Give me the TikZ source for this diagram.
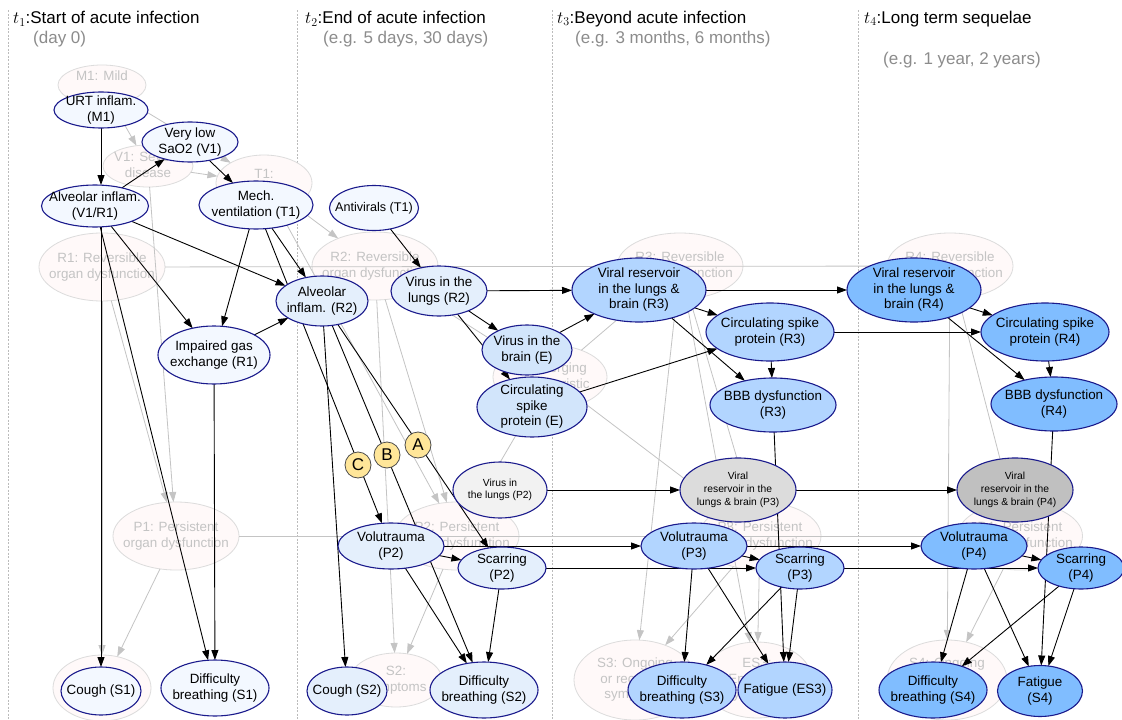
\documentclass[tikz,border=0pt]{standalone}
\usepackage{fontspec}
\setmainfont{Liberation Sans}
\usetikzlibrary{shapes.geometric,arrows.meta}
\newsavebox\ctrbox
\newcommand\ctr[1]{\sbox\ctrbox{\begin{tabular}{@{}c@{}}#1\end{tabular}}\raisebox{\dimexpr(\dp\ctrbox-\ht\ctrbox)/2\relax}[0pt][0pt]{\makebox[0pt]{\usebox\ctrbox}}}
\pgfdeclarelayer{bglayer}\pgfdeclarelayer{gllayer}\pgfdeclarelayer{edlayer}
\pgfsetlayers{bglayer,gllayer,edlayer,main}
\definecolor{navy}{HTML}{1A1A8C}
\definecolor{cA}{HTML}{F3F8FF}
\definecolor{cB}{HTML}{E4EFFC}
\definecolor{cE}{HTML}{D2E5FB}
\definecolor{cC}{HTML}{B2D5FF}
\definecolor{cD}{HTML}{80BDFF}
\definecolor{gA}{HTML}{F2F2F2}
\definecolor{gB}{HTML}{DCDCDC}
\definecolor{gC}{HTML}{C0C0C0}
\definecolor{bgfill}{HTML}{FFF9F9}
\definecolor{bgdraw}{HTML}{DCDCDC}
\definecolor{bgtext}{HTML}{C4C4C4}
\definecolor{glinec}{HTML}{C4C4C4}
\definecolor{subtc}{HTML}{8C8C8C}
\definecolor{divc}{HTML}{BBBBBB}
\definecolor{ylw}{HTML}{FFE699}
\tikzset{
  fgn/.style={ellipse, draw=navy, line width=1.1pt, inner sep=0pt, outer sep=0pt, font=\fontsize{13.4}{15.8}\selectfont},
  smallfg/.style={font=\fontsize{10.3}{12.8}\selectfont},
  sz/.style 2 args={minimum width=#1pt, minimum height=#2pt},
  bgnode/.style={ellipse, draw=bgdraw, fill=bgfill, line width=0.8pt, inner sep=0pt, outer sep=0pt, text=bgtext, font=\fontsize{13.4}{15.8}\selectfont},
  bedge/.style={draw=black, line width=0.9pt, -{Triangle[length=10pt,width=7pt]}},
  gedge/.style={draw=glinec, line width=0.8pt, -{Triangle[length=10pt,width=7pt,fill=glinec]}},
  gplain/.style={draw=glinec, line width=0.8pt},
  circ/.style={circle, draw=black!70, fill=ylw, line width=0.8pt, minimum size=26pt, inner sep=0pt, font=\fontsize{17}{20}\selectfont},
  ttl/.style={anchor=west, inner sep=0pt, font=\fontsize{17}{20}\selectfont},
  subt/.style={anchor=west, inner sep=0pt, text=subtc, font=\fontsize{17}{20}\selectfont},
  divider/.style={draw=divc, line width=0.7pt, dash pattern=on 2pt off 1.5pt},
}
\begin{document}
\begin{tikzpicture}[x=1pt,y=-1pt]
\useasboundingbox (0,0) rectangle (1122,720);

\begin{pgfonlayer}{bglayer}
\fill[white] (0,0) rectangle (1122,720);
\draw[divider] (8,10) -- (8,720);
\draw[divider] (297,10) -- (297,720);
\draw[divider] (552,10) -- (552,720);
\draw[divider] (858,10) -- (858,720);
% background (faded) graph
\node[bgnode,sz={88}{40}] (M1bg) at (102,85) {\ctr{M1: Mild\\\mbox{}}};
\node[bgnode,sz={90}{42}] (V1bg) at (148,166) {\ctr{V1: Severe\\disease}};
\node[bgnode,sz={96}{56}] (T1bg) at (264,183) {\ctr{T1:\\\mbox{}}};
\node[bgnode,sz={126}{68}] (R1bg) at (102,267) {\ctr{R1: Reversible\\organ dysfunction}};
\node[bgnode,sz={126}{68}] (R2bg) at (375,266) {\ctr{R2: Reversible\\organ dysfunction}};
\node[bgnode,sz={126}{66}] (R3bg) at (680,266) {\ctr{R3: Reversible\\organ dysfunction}};
\node[bgnode,sz={126}{66}] (R4bg) at (950,266) {\ctr{R4: Reversible\\organ dysfunction}};
\node[bgnode,sz={114}{64}] (Ebg) at (550,377) {\ctr{E: Emerging\\characteristic}};
\node[bgnode,sz={126}{68}] (P1bg) at (176,536) {\ctr{P1: Persistent\\organ dysfunction}};
\node[bgnode,sz={124}{68}] (P2bg) at (457,536) {\ctr{P2: Persistent\\organ dysfunction}};
\node[bgnode,sz={122}{68}] (P3bg) at (760,536) {\ctr{P3: Persistent\\organ dysfunction}};
\node[bgnode,sz={125}{68}] (P4bg) at (1020,536) {\ctr{P4: Persistent\\organ dysfunction}};
\node[bgnode,sz={98}{66}] (S1bg) at (102,688) {};
\node[bgnode,sz={92}{54}] (S2bg) at (396,680) {\ctr{S2:\\symptoms}};
\node[bgnode,sz={122}{80}] (S3bg) at (635,680) {\ctr{S3: Ongoing\\or recurrent\\symptoms}};
\node[bgnode,sz={110}{76}] (ES3bg) at (757,680) {\ctr{ES3:\\Emerging\\symptoms}};
\node[bgnode,sz={120}{80}] (S4bg) at (947,680) {\ctr{S4: Ongoing\\or recurrent\\symptoms}};
\end{pgfonlayer}

\begin{pgfonlayer}{gllayer}
\draw[gedge] (M1bg) -- (V1bg);
\draw[gedge] (M1bg) -- (T1bg);
\draw[gedge] (V1bg) -- (T1bg);
\draw[gedge] (V1bg) -- (P1bg);
\draw[gedge] (R1bg) -- (P1bg);
\draw[gedge] (R1bg) -- (S1bg);
\draw[gedge] (P1bg) -- (S1bg);
\draw[gplain] (R1bg) -- (R4bg);
\draw[gplain] (P1bg) -- (P4bg);
\draw[gedge] (T1bg) -- (R2bg);
\draw[gedge] (T1bg) -- (P2bg);
\draw[gedge] (R2bg) -- (P2bg);
\draw[gedge] (R2bg) -- (S2bg);
\draw[gedge] (P2bg) -- (S2bg);
\draw[gedge] (R2bg) -- (Ebg);
\draw[gedge] (Ebg) -- (P2bg);
\draw[gedge] (Ebg) -- (R3bg);
\draw[gedge] (Ebg) -- (P3bg);
\draw[gedge] (R3bg) -- (P3bg);
\draw[gedge] (R3bg) -- (S3bg);
\draw[gedge] (R3bg) -- (ES3bg);
\draw[gedge] (P3bg) -- (S3bg);
\draw[gedge] (P3bg) -- (ES3bg);
\draw[gedge] (R4bg) -- (P4bg);
\draw[gedge] (R4bg) -- (S4bg);
\draw[gedge] (P4bg) -- (S4bg);
\end{pgfonlayer}

% titles
\node[ttl] (h1) at (13,19) {$t_1$:Start of acute infection};
\node[subt] (d1) at (33,39) {(day 0)};
\node[ttl] (h2) at (305,19) {$t_2$:End of acute infection};
\node[subt] (d2) at (323,39) {(e.g. 5 days, 30 days)};
\node[ttl] (h3) at (557,19) {$t_3$:Beyond acute infection};
\node[subt] (d3) at (575,39) {(e.g. 3 months, 6 months)};
\node[ttl] (h4) at (864,19) {$t_4$:Long term sequelae};
\node[subt] (d4) at (883,60) {(e.g. 1 year, 2 years)};

% column 1
\node[fgn,fill=cA,sz={94}{36}] (M1) at (101,110) {\ctr{URT inflam.\\(M1)}};
\node[fgn,fill=cA,sz={96}{40}] (V1) at (190,142) {\ctr{Very low\\SaO2 (V1)}};
\node[fgn,fill=cA,sz={107}{42}] (VR1) at (95,206) {\ctr{Alveolar inflam.\\(V1/R1)}};
\node[fgn,fill=cA,sz={114}{48}] (T1) at (256,205) {\ctr{Mech.\\ventilation (T1)}};
\node[fgn,fill=cA,sz={112}{58}] (R1) at (214,355) {\ctr{Impaired gas\\exchange (R1)}};
\node[fgn,fill=cA,sz={80}{48}] (S1c) at (101,691) {\ctr{Cough (S1)}};
\node[fgn,fill=cA,sz={108}{56}] (S1d) at (215,688) {\ctr{Difficulty\\breathing (S1)}};

% column 2
\node[fgn,fill=cA,sz={89}{45},font=\fontsize{12.6}{15}\selectfont] (AV) at (374,208) {\ctr{Antivirals (T1)}};
\node[fgn,fill=cB,sz={92}{50}] (R2a) at (322,301) {\ctr{Alveolar\\inflam. (R2)}};
\node[fgn,fill=cB,sz={96}{50}] (R2v) at (439,291) {\ctr{Virus in the\\lungs (R2)}};
\node[fgn,fill=cE,sz={90}{50}] (E1) at (527,350) {\ctr{Virus in the\\brain (E)}};
\node[fgn,fill=cE,sz={110}{60}] (E2) at (532,407) {\ctr{Circulating\\spike\\protein (E)}};
\node[fgn,smallfg,fill=gA,sz={94}{56}] (P2v) at (500,490) {\ctr{Virus in\\the lungs (P2)}};
\node[fgn,fill=cB,sz={106}{46}] (P2vol) at (391,546) {\ctr{Volutrauma\\(P2)}};
\node[fgn,fill=cB,sz={88}{42}] (P2s) at (502,568) {\ctr{Scarring\\(P2)}};
\node[fgn,fill=cB,sz={80}{48}] (S2c) at (347,691) {\ctr{Cough (S2)}};
\node[fgn,fill=cB,sz={108}{56}] (S2d) at (484,690) {\ctr{Difficulty\\breathing (S2)}};

% column 3
\node[fgn,fill=cC,sz={134}{64}] (R3) at (639,290) {\ctr{Viral reservoir\\in the lungs \&\\brain (R3)}};
\node[fgn,fill=cC,sz={128}{58}] (R3c) at (770,332) {\ctr{Circulating spike\\protein (R3)}};
\node[fgn,fill=cC,sz={126}{54}] (R3b) at (773,405) {\ctr{BBB dysfunction\\(R3)}};
\node[fgn,smallfg,fill=gB,sz={116}{64}] (P3v) at (738,490) {\ctr{Viral\\reservoir in the\\lungs \& brain (P3)}};
\node[fgn,fill=cC,sz={106}{46}] (P3vol) at (694,546) {\ctr{Volutrauma\\(P3)}};
\node[fgn,fill=cC,sz={88}{42}] (P3s) at (800,568) {\ctr{Scarring\\(P3)}};
\node[fgn,fill=cC,sz={108}{56}] (S3d) at (682,690) {\ctr{Difficulty\\breathing (S3)}};
\node[fgn,fill=cC,sz={94}{56}] (S3f) at (785,690) {\ctr{Fatigue (ES3)}};

% column 4
\node[fgn,fill=cD,sz={134}{64}] (R4) at (914,290) {\ctr{Viral reservoir\\in the lungs \&\\brain (R4)}};
\node[fgn,fill=cD,sz={128}{58}] (R4c) at (1045,332) {\ctr{Circulating spike\\protein (R4)}};
\node[fgn,fill=cD,sz={126}{54}] (R4b) at (1054,404) {\ctr{BBB dysfunction\\(R4)}};
\node[fgn,smallfg,fill=gC,sz={116}{64}] (P4v) at (1015,490) {\ctr{Viral\\reservoir in the\\lungs \& brain (P4)}};
\node[fgn,fill=cD,sz={106}{46}] (P4vol) at (974,546) {\ctr{Volutrauma\\(P4)}};
\node[fgn,fill=cD,sz={86}{42}] (P4s) at (1081,568) {\ctr{Scarring\\(P4)}};
\node[fgn,fill=cD,sz={108}{56}] (S4d) at (933,690) {\ctr{Difficulty\\breathing (S4)}};
\node[fgn,fill=cD,sz={85}{51}] (S4f) at (1040,691) {\ctr{Fatigue\\(S4)}};

% path labels
\node[circ] (cA) at (418,445) {A};
\node[circ] (cB) at (387,455) {B};
\node[circ] (cC) at (358,465) {C};

\begin{pgfonlayer}{edlayer}
\draw[bedge] (M1.south) -- (M1.south |- VR1.north);
\draw[bedge] (VR1) -- (V1);
\draw[bedge] (V1) -- (T1);
\draw[bedge] (VR1) -- (R1);
\draw[bedge] (T1) -- (R1);
\draw[bedge] (VR1) -- (R2a);
\draw[bedge] (R1) -- (R2a);
\draw[bedge] (T1) -- (R2a);
\draw[bedge] (S1c.north |- VR1.south) -- (S1c.north);
\draw[bedge] (VR1) -- (S1d);
\draw[bedge] (R1) -- (S1d);
\draw[bedge] (AV) -- (R2v);
\draw[bedge] (R2v) -- (E1);
\draw[bedge] (R2v) -- (E2);
\draw[bedge] (R2v) -- (R3);
\draw[bedge] (E1) -- (R3);
\draw[bedge] (E2) -- (R3c);
\draw[bedge] (R3) -- (R3c);
\draw[bedge] (R3) -- (R3b);
\draw[bedge] (R3c) -- (R3b);
\draw[bedge] (R3) -- (R4);
\draw[bedge] (R3c) -- (R4c);
\draw[bedge] (R4) -- (R4c);
\draw[bedge] (R4) -- (R4b);
\draw[bedge] (R4c) -- (R4b);
\draw[bedge] (T1) -- (P2vol);
\draw[bedge] (R2a) -- (P2s);
\draw[bedge] (R2a) -- (S2d);
\draw[bedge] (R2a) -- (S2c);
\draw[bedge] (P2vol) -- (P2s);
\draw[bedge] (P2vol) -- (S2d);
\draw[bedge] (P2s) -- (S2d);
\draw[bedge] (P2v) -- (P3v);
\draw[bedge] (P3v) -- (P4v);
\draw[bedge] (P2vol) -- (P3vol);
\draw[bedge] (P3vol) -- (P4vol);
\draw[bedge] (P2s) -- (P3s);
\draw[bedge] (P3s) -- (P4s);
\draw[bedge] (P3vol) -- (P3s);
\draw[bedge] (P3vol) -- (S3d);
\draw[bedge] (P3vol) -- (S3f);
\draw[bedge] (P3s) -- (S3d);
\draw[bedge] (P3s) -- (S3f);
\draw[bedge] (R3b) -- (S3f);
\draw[bedge] (P4vol) -- (P4s);
\draw[bedge] (P4vol) -- (S4d);
\draw[bedge] (P4vol) -- (S4f);
\draw[bedge] (P4s) -- (S4d);
\draw[bedge] (P4s) -- (S4f);
\draw[bedge] (R4b) -- (S4f);
\end{pgfonlayer}
\end{tikzpicture}
\end{document}
